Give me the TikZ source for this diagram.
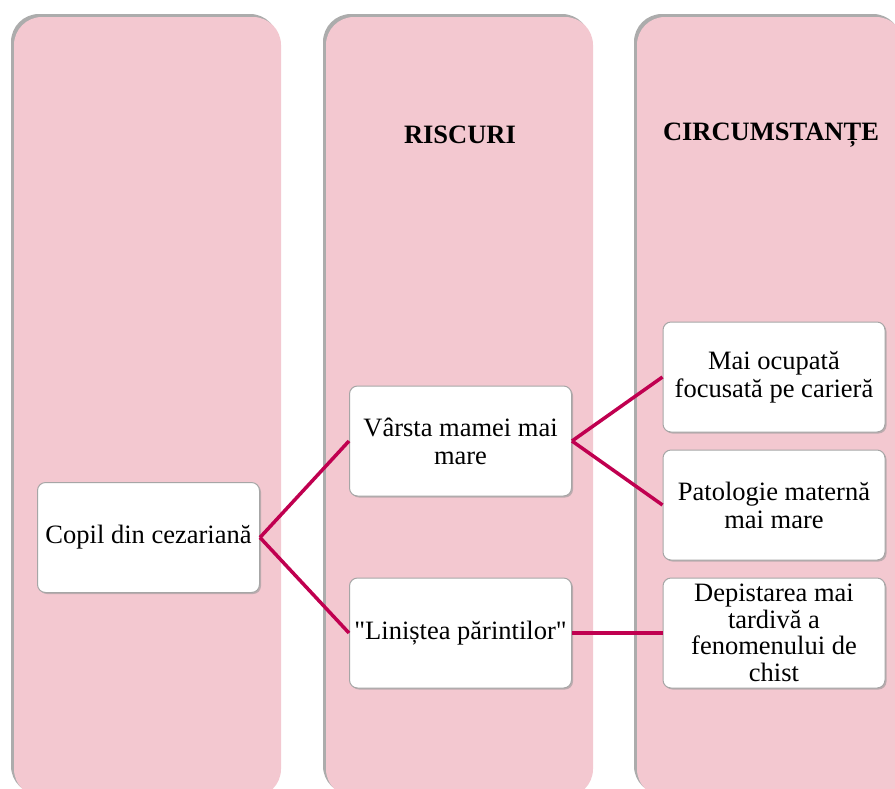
\documentclass[tikz,border=0pt]{standalone}
\usepackage{fontspec}
\setmainfont{Liberation Serif}
\usetikzlibrary{shadows}
\definecolor{lanepink}{RGB}{243,200,208}
\definecolor{linkred}{RGB}{192,0,80}

\begin{document}
\begin{tikzpicture}[x=1pt,y=-1pt,
  lane/.style={fill=lanepink,rounded corners=28pt,
    drop shadow={shadow xshift=-3pt,shadow yshift=3pt,fill=gray!65,opacity=1}},
  heading/.style={font=\fontsize{26.5}{28}\selectfont\bfseries},
  item/.style={draw=gray!70,line width=1pt,fill=white,rounded corners=8pt,
    minimum width=222pt,minimum height=110pt,align=center,inner sep=2pt,
    font=\fontsize{26.5}{28}\selectfont,
    drop shadow={shadow xshift=1.5pt,shadow yshift=-1.5pt,fill=gray!80,opacity=0.6}},
  link/.style={draw=linkred,line width=3.5pt}]
  \useasboundingbox (0,0) rectangle (895,788);
  \fill[white] (0,0) rectangle (895,788);
  % three pink lanes
  \fill[lane] (14,17) rectangle (281,797);
  \fill[lane] (326,17) rectangle (593,797);
  \fill[lane] (637,17) rectangle (904,797);
  \node[heading] (riscuri) at (460,135) {RISCURI};
  \node[heading] (circ) at (771,135) {CIRCUMSTANȚE};
  % boxes
  \node[item] (copil) at (148.5,537.5) {Copil din cezariană};
  \node[item] (varsta) at (460.5,441) {Vârsta mamei mai\\ mare};
  \node[item] (liniste) at (460.5,633) {\textquotedbl Liniștea părintilor\textquotedbl};
  \node[item] (ocupata) at (774,377) {Mai ocupată\\ focusată pe carieră};
  \node[item] (patologie) at (774,505) {Patologie maternă\\ mai mare};
  \node[item,font=\fontsize{26.5}{26.5}\selectfont] (depistare) at (774,633)
    {Depistarea mai\\ tardivă a\\ fenomenului de\\ chist};
  % links
  \draw[link] (copil.east) -- (varsta.west);
  \draw[link] (copil.east) -- (liniste.west);
  \draw[link] (varsta.east) -- (ocupata.west);
  \draw[link] (varsta.east) -- (patologie.west);
  \draw[link] (liniste.east) -- (depistare.west);
\end{tikzpicture}
\end{document}
